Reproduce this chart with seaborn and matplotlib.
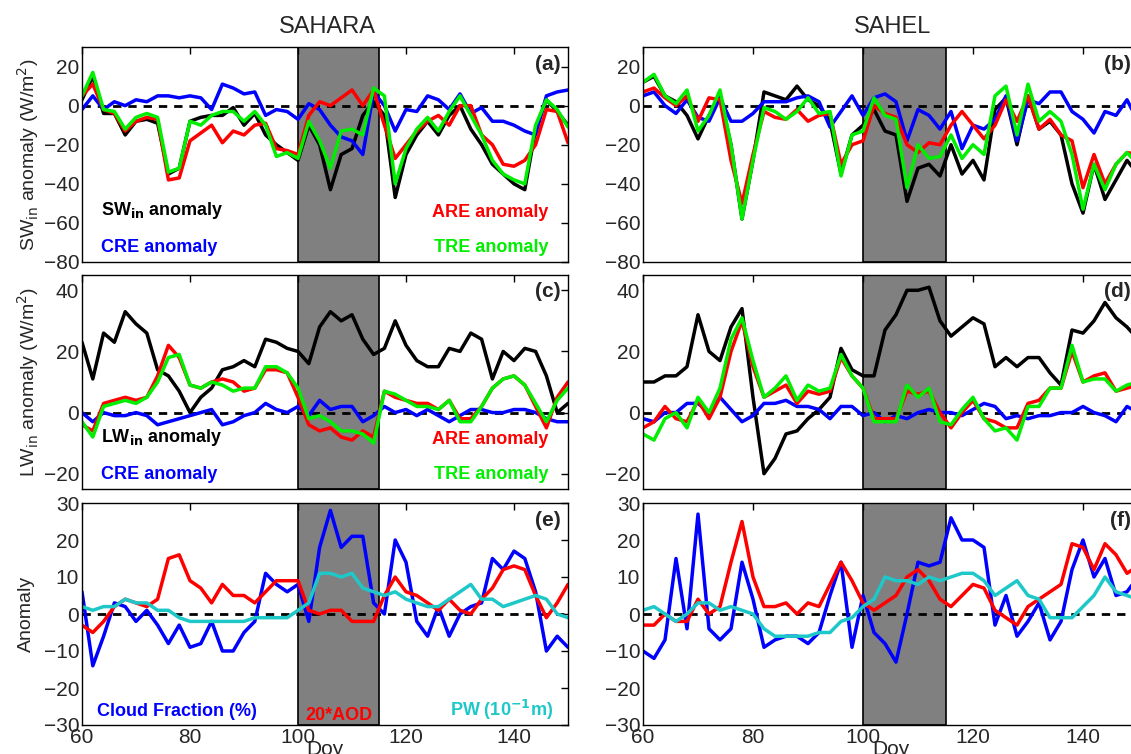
import matplotlib
matplotlib.use("Agg")
import matplotlib.pyplot as plt
import numpy as np
import pandas as pd
import seaborn as sns

sns.set_theme(style='white')
plt.rcParams['font.family'] = ['Liberation Sans', 'DejaVu Sans']

days = list(range(60, 151, 2))

# (a) SAHARA SW
sw_sahara = [3,15,-4,-4,-15,-8,-7,-9,-35,-32,-8,-6,-5,-5,-1,-10,-4,-15,-20,-24,-28,-10,-20,-43,-25,-22,-5,2,-5,-47,-25,-15,-8,-15,-5,0,-12,-20,-30,-35,-40,-43,-12,3,-3,-10]
tre_sw_sahara = [5,17,-2,-3,-12,-6,-4,-6,-34,-32,-8,-10,-5,-3,-3,-8,-3,-10,-26,-24,-27,-8,-18,-32,-13,-12,-15,9,5,-40,-22,-12,-6,-13,-3,5,-5,-15,-28,-35,-38,-40,-10,3,-2,-11]
are_sw_sahara = [5,11,-2,-4,-13,-8,-6,-7,-38,-37,-18,-14,-10,-19,-13,-15,-10,-9,-22,-23,-25,-5,2,0,4,8,0,8,-10,-27,-20,-13,-8,-5,-10,0,0,-15,-20,-30,-31,-28,-20,-2,-3,-19]
cre_sw_sahara = [-2,5,-2,2,0,3,2,5,5,4,5,4,-2,11,9,6,7,-5,-2,-3,-7,1,-2,-10,-16,-18,-25,7,0,-13,-2,-3,5,3,-2,6,-4,-1,-8,-8,-10,-13,-15,5,7,8]

# (b) SAHEL SW
sw_sahel = [12,15,5,2,-5,-17,-5,5,-20,-58,-28,7,5,3,10,3,0,-8,-35,-15,-10,-2,-13,-15,-49,-32,-30,-36,-20,-35,-28,-38,-2,4,-20,5,-12,-8,-15,-40,-55,-30,-48,-38,-28,-35]
tre_sw_sahel = [12,16,5,1,8,-13,-5,8,-20,-58,-28,-1,-3,-7,-3,4,-4,-3,-36,-15,-13,4,-5,-7,-42,-20,-27,-26,-15,-27,-20,-25,5,10,-15,11,-8,-3,-8,-25,-53,-30,-43,-30,-24,-30]
are_sw_sahel = [7,9,4,0,5,-8,4,3,-28,-50,-25,-3,-6,-7,-2,-8,-5,-4,-30,-20,-18,0,-4,-6,-20,-24,-19,-20,-10,-3,-10,-17,-10,3,-8,5,-12,-7,-15,-18,-42,-25,-40,-30,-24,-25]
cre_sw_sahel = [5,7,0,-4,3,-6,-8,4,-8,-8,-4,2,2,2,4,5,2,-11,-3,5,-5,4,6,2,-18,-2,-5,-12,-3,-22,-10,-12,-7,5,-18,3,1,7,7,-3,-7,-14,-3,-5,3,-8]

# (c) SAHARA LW
lw_sahara = [23,11,26,23,33,29,26,14,12,7,0,5,8,14,15,17,15,24,23,21,20,16,28,33,30,32,24,19,21,30,22,17,15,15,21,20,26,24,11,20,17,21,20,12,0,3]
are_lw_sahara = [-4,-6,3,4,5,4,5,12,22,18,9,8,10,11,10,7,8,14,14,13,5,-4,-6,-5,-8,-9,-6,-8,7,5,4,3,3,1,4,-2,-2,2,8,11,12,9,2,-5,5,10]
tre_lw_sahara = [-3,-8,2,3,4,3,5,10,18,19,9,8,10,9,7,8,8,15,15,13,8,-2,-1,-3,-6,-6,-7,-10,7,6,4,2,2,1,4,-3,-3,2,8,11,12,9,3,-3,4,8]
cre_lw_sahara = [0,-3,0,-1,-1,0,-1,-4,-3,-2,-1,0,1,-4,-3,-1,0,3,1,0,2,-1,4,1,2,2,-3,-1,2,0,1,-1,1,-1,-3,-1,1,1,0,0,1,1,0,-2,-3,-3]

# (d) SAHEL LW
lw_sahel = [10,10,12,12,15,32,20,17,28,34,5,-20,-15,-7,-6,-2,1,5,21,14,12,12,27,32,40,40,41,30,25,28,31,29,15,18,15,18,18,13,9,27,26,30,36,31,28,24]
are_lw_sahel = [-5,-3,2,-2,-3,4,-2,5,20,30,15,5,7,9,3,7,6,7,18,12,8,-2,-2,-2,7,6,7,0,-5,0,4,-2,-3,-5,-5,3,4,8,8,20,10,12,13,7,8,9]
tre_lw_sahel = [-7,-9,-2,0,-5,5,0,8,24,31,17,5,8,12,4,9,7,8,19,12,8,-3,-3,-3,9,5,8,-3,-4,1,5,-2,-6,-5,-9,2,2,8,8,22,10,11,11,7,9,10]
cre_lw_sahel = [-2,-3,0,0,3,3,0,5,1,-3,-1,3,3,4,2,2,1,-2,2,2,-1,0,-3,-1,-2,0,1,0,0,-1,1,3,2,-2,-1,-2,-1,-1,0,0,2,0,-1,-3,2,0]

# (e) SAHARA cloud / aerosol / water
cf_sahara = [6,-14,-6,3,2,-2,1,-3,-8,-3,-9,-8,-2,-10,-10,-5,-2,11,8,6,8,-2,18,28,18,21,21,3,0,20,14,-2,-6,2,-6,0,2,3,15,12,17,15,6,-10,-6,-9]
aod_sahara = [-3,-5,-2,2,4,3,2,4,15,16,9,7,3,8,5,5,3,6,9,9,9,1,0,1,1,-2,-2,-2,5,10,6,5,3,1,4,1,0,4,7,12,13,12,5,-1,3,8]
pw_sahara = [2,1,2,2,4,3,3,1,1,-1,-2,-2,-2,-2,-2,-2,-1,-1,-1,-1,1,3,11,11,10,11,7,6,5,6,4,3,2,2,4,6,8,4,4,2,3,4,5,4,0,-1]

# (f) SAHEL cloud / aerosol / water
cf_sahel = [-10,-12,-7,15,-4,27,-4,-7,-4,14,4,-9,-7,-6,-6,-8,-5,5,14,-9,5,-5,-8,-13,0,14,13,14,26,20,20,18,-3,5,-6,-2,3,-7,-2,12,20,10,15,5,6,10]
aod_sahel = [-3,-3,0,-2,-2,4,0,2,14,25,10,2,2,3,0,3,2,8,14,9,3,1,3,5,10,12,9,4,2,5,8,7,1,-1,-3,2,4,6,8,19,18,12,19,16,11,13]
pw_sahel = [1,2,0,-2,0,3,3,1,2,1,0,-4,-6,-6,-6,-6,-5,-5,-2,-1,2,4,10,9,9,8,10,9,10,11,11,9,5,7,9,5,4,-1,-1,-1,2,5,10,6,5,4]

W, H = 1131, 754
fig = plt.figure(figsize=(W / 100, H / 100), dpi=100)


def px_axes(x0, x1, top, bottom):
    return fig.add_axes([x0 / W, 1 - bottom / H, (x1 - x0) / W, (bottom - top) / H])


def draw_panel(ax, series, ylim, yticks, tag, show_x):
    ax.axvspan(100, 115, facecolor='#808080', edgecolor='black', lw=1.2, zorder=0)
    ax.axhline(0, color='black', ls='--', lw=2, dashes=(3, 2.5), zorder=1)
    for vals, col in series:
        df = pd.DataFrame({'day': days, 'val': vals})
        sns.lineplot(data=df, x='day', y='val', color=col, lw=2.5, ax=ax, zorder=2)
    ax.set_xlim(60, 150)
    ax.set_ylim(*ylim)
    ax.set_yticks(yticks)
    ax.set_xticks([60, 80, 100, 120, 140])
    ax.set_xlabel('Doy' if show_x else '', fontsize=15, labelpad=-5)
    ax.set_ylabel('')
    if not show_x:
        ax.set_xticklabels([])
    ax.tick_params(direction='in', top=True, right=True, length=5, labelsize=15, width=1, color='black', pad=2)
    for s in ax.spines.values():
        s.set_color('black')
        s.set_linewidth(1)
    ax.text(0.985, 0.965, tag, transform=ax.transAxes, ha='right', va='top', fontsize=15, fontweight='bold')


LX = (82, 568)
RX = (643, 1138)
ROWS = [(47, 262), (275, 489), (503, 725)]

panels = [
    (LX, ROWS[0], [(sw_sahara, 'black'), (cre_sw_sahara, 'blue'), (are_sw_sahara, 'red'), (tre_sw_sahara, '#00ee00')], (-80, 30), range(-80, 21, 20), '(a)'),
    (RX, ROWS[0], [(sw_sahel, 'black'), (cre_sw_sahel, 'blue'), (are_sw_sahel, 'red'), (tre_sw_sahel, '#00ee00')], (-80, 30), range(-80, 21, 20), '(b)'),
    (LX, ROWS[1], [(lw_sahara, 'black'), (cre_lw_sahara, 'blue'), (are_lw_sahara, 'red'), (tre_lw_sahara, '#00ee00')], (-25, 45), [-20, 0, 20, 40], '(c)'),
    (RX, ROWS[1], [(lw_sahel, 'black'), (cre_lw_sahel, 'blue'), (are_lw_sahel, 'red'), (tre_lw_sahel, '#00ee00')], (-25, 45), [-20, 0, 20, 40], '(d)'),
    (LX, ROWS[2], [(cf_sahara, 'blue'), (aod_sahara, 'red'), (pw_sahara, '#1ec8c8')], (-30, 30), range(-30, 31, 10), '(e)'),
    (RX, ROWS[2], [(cf_sahel, 'blue'), (aod_sahel, 'red'), (pw_sahel, '#1ec8c8')], (-30, 30), range(-30, 31, 10), '(f)'),
]

axes = []
for i, (xr, yr, ser, ylim, yt, tag) in enumerate(panels):
    ax = px_axes(xr[0], xr[1], yr[0], yr[1])
    draw_panel(ax, ser, ylim, yt, tag, show_x=(i >= 4))
    axes.append(ax)

# in-panel labels
for ax, top in [(axes[0], 'SW$_{\\mathbf{in}}$ anomaly'), (axes[2], 'LW$_{\\mathbf{in}}$ anomaly')]:
    ax.text(0.04, 0.19, top, transform=ax.transAxes, fontsize=13, fontweight='bold', color='black', va='bottom')
    ax.text(0.04, 0.03, 'CRE anomaly', transform=ax.transAxes, fontsize=13, fontweight='bold', color='blue', va='bottom')
    ax.text(0.96, 0.19, 'ARE anomaly', transform=ax.transAxes, fontsize=13, fontweight='bold', color='red', ha='right', va='bottom')
    ax.text(0.96, 0.03, 'TRE anomaly', transform=ax.transAxes, fontsize=13, fontweight='bold', color='#00ee00', ha='right', va='bottom')

axes[4].text(0.03, 0.04, 'Cloud Fraction (%)', transform=axes[4].transAxes, fontsize=13, fontweight='bold', color='blue')
axes[4].text(107.5, -28.7, '20*AOD', fontsize=13, fontweight='bold', color='red', ha='center')
axes[4].text(0.97, 0.04, 'PW (10$^{\\mathbf{-1}}$m)', transform=axes[4].transAxes, fontsize=13, fontweight='bold', color='#1ec8c8', ha='right')

axes[0].set_ylabel('SW$_{\\rm in}$ anomaly (W/m$^2$)', fontsize=14, labelpad=2)
axes[2].set_ylabel('LW$_{\\rm in}$ anomaly (W/m$^2$)', fontsize=14, labelpad=2)
axes[4].set_ylabel('Anomaly', fontsize=14, labelpad=6)

fig.text(327 / W, 1 - 27 / H, 'SAHARA', fontsize=17, ha='center', va='center')
fig.text(893 / W, 1 - 27 / H, 'SAHEL', fontsize=17, ha='center', va='center')

fig.savefig('out.png', dpi=100)
